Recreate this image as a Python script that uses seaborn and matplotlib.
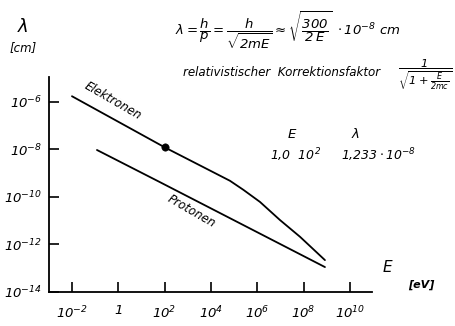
import matplotlib
matplotlib.use("Agg")
import matplotlib.pyplot as plt
import seaborn as sns
import pandas as pd

electron_E = [1e-2, 1e2, 6.6e4, 2.5e5, 1.3e6, 9.5e6, 7e7, 8.3e8]
electron_lam = [1.74e-6, 1.233e-8, 4.8e-10, 2e-10, 6.2e-11, 1.07e-11, 2.1e-12, 2.2e-13]
proton_E = [1.2e-1, 6.3e1, 8.3e8]
proton_lam = [9.5e-9, 4.2e-10, 1.12e-13]
marked_E = [1e2]
marked_lam = [1.233e-8]

x_ticks = [1e-2, 1, 1e2, 1e4, 1e6, 1e8, 1e10]
x_labels = [r"$10^{-2}$", r"$1$", r"$10^{2}$", r"$10^{4}$", r"$10^{6}$", r"$10^{8}$", r"$10^{10}$"]
y_ticks = [1e-14, 1e-12, 1e-10, 1e-8, 1e-6]
y_labels = [r"$10^{-14}$", r"$10^{-12}$", r"$10^{-10}$", r"$10^{-8}$", r"$10^{-6}$"]

sns.set_theme(style="white")
plt.rcParams["font.family"] = ["DejaVu Sans"]
plt.rcParams["font.style"] = "italic"
plt.rcParams["text.color"] = "black"
plt.rcParams["mathtext.fontset"] = "custom"
plt.rcParams["mathtext.rm"] = "DejaVu Sans:italic"
plt.rcParams["mathtext.it"] = "DejaVu Sans:italic"
plt.rcParams["mathtext.bf"] = "DejaVu Sans:italic:bold"

fig = plt.figure(figsize=(4.56, 3.26), dpi=100)
ax = fig.add_axes([0.1075, 0.1043, 0.7083, 0.6595])
ax.set_xscale("log")
ax.set_yscale("log")

df_e = pd.DataFrame({"E": electron_E, "lam": electron_lam})
df_p = pd.DataFrame({"E": proton_E, "lam": proton_lam})
sns.lineplot(data=df_e, x="E", y="lam", ax=ax, color="black", lw=1.3,
             estimator=None, sort=False)
sns.lineplot(data=df_p, x="E", y="lam", ax=ax, color="black", lw=1.3,
             estimator=None, sort=False)
sns.scatterplot(x=marked_E, y=marked_lam, ax=ax, color="black", s=28,
                edgecolor="black", zorder=5)

ax.set_xlim(10**-2.99, 10**10.95)
ax.set_ylim(1e-14, 10**-4.95)
ax.set_xticks(x_ticks)
ax.set_xticklabels(x_labels)
ax.set_yticks(y_ticks)
ax.set_yticklabels(y_labels)
ax.minorticks_off()
ax.tick_params(axis="both", direction="in", length=7, width=1.2, color="black",
               labelsize=9.5, labelcolor="black", left=True, bottom=True)
ax.tick_params(axis="x", pad=9)
ax.tick_params(axis="y", pad=5)
for side in ("top", "right"):
    ax.spines[side].set_visible(False)
for side in ("left", "bottom"):
    ax.spines[side].set_color("black")
    ax.spines[side].set_linewidth(1.3)
ax.set_xlabel("")
ax.set_ylabel("")

# Achsenbeschriftungen
fig.text(17 / 456, 1 - 27 / 326, r"$\lambda$", fontsize=13, ha="left", va="center")
fig.text(10 / 456, 1 - 48 / 326, "[cm]", fontsize=8.5, ha="left", va="center")
fig.text(383 / 456, 1 - 268 / 326, "E", fontsize=11, ha="left", va="center")
fig.text(408 / 456, 1 - 285 / 326, "[eV]", fontsize=8, ha="left", va="center",
         fontweight="bold")

# Formeln
fig.text(175 / 456, 1 - 30 / 326,
         r"$\lambda = \dfrac{h}{p} = \dfrac{h}{\sqrt{2mE}} \approx \sqrt{\dfrac{300}{2\,E}}\ \cdot 10^{-8}\ \mathrm{cm}$",
         fontsize=9.5, ha="left", va="center")
fig.text(183 / 456, 1 - 73 / 326, "relativistischer  Korrektionsfaktor",
         fontsize=8.6, ha="left", va="center")
fig.text(452 / 456, 1 - 75 / 326, r"$\dfrac{1}{\sqrt{1+\frac{E}{2mc}}}$",
         fontsize=8.2, ha="right", va="center")

# Beispielwert
fig.text(292 / 456, 1 - 134 / 326, "E", fontsize=9.5, ha="center", va="center")
fig.text(356 / 456, 1 - 134 / 326, r"$\lambda$", fontsize=9.5, ha="center", va="center")
fig.text(270 / 456, 1 - 155 / 326, r"$1{,}0\ \ 10^{2}$", fontsize=9, ha="left", va="center")
fig.text(341 / 456, 1 - 155 / 326, r"$1{,}233 \cdot 10^{-8}$", fontsize=9, ha="left", va="center")

# Kurvenbeschriftungen
fig.text(113 / 456, 1 - 101 / 326, "Elektronen", fontsize=8.5, ha="center", va="center",
         rotation=-30, rotation_mode="anchor")
fig.text(192 / 456, 1 - 211 / 326, "Protonen", fontsize=8.5, ha="center", va="center",
         rotation=-30, rotation_mode="anchor")

fig.savefig("out.png", dpi=100)
